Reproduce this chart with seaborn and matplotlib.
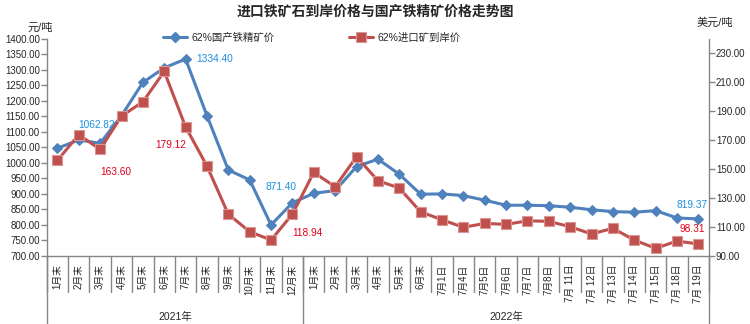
import matplotlib
matplotlib.use('Agg')
import matplotlib.pyplot as plt
import matplotlib.transforms as mtransforms
from matplotlib.lines import Line2D
import seaborn as sns
import numpy as np
import pandas as pd

# ---------------- data ----------------
categories = ['1月末', '2月末', '3月末', '4月末', '5月末', '6月末', '7月末', '8月末',
              '9月末', '10月末', '11月末', '12月末',
              '1月末', '2月末', '3月末', '4月末', '5月末', '6月末',
              '7月1日', '7月4日', '7月5日', '7月6日', '7月7日', '7月8日',
              '7月 11日', '7月 12日', '7月 13日', '7月 14日', '7月 15日', '7月 18日', '7月 19日']
years = ['2021年', '2022年']
year_counts = [12, 19]

domestic = [1047, 1074, 1062.82, 1152, 1259, 1306, 1334.40, 1152, 977, 945, 800, 871.40,
            902, 910.6, 988, 1012, 963.5, 899,
            900, 894.5, 879.7, 863.5, 863.5, 862, 857, 849, 843, 841, 846, 822.6, 819.37]
imported = [156, 173.7, 163.60, 186.6, 196.4, 217.4, 179.12, 152.1, 118.8, 106.8, 101, 118.94,
            147.7, 137.8, 158.5, 142, 136.9, 120.5,
            115, 109.8, 112.5, 111.8, 114.3, 113.9, 110.2, 105.2, 109.1, 101, 95.3, 100.3, 98.31]

series_names = ['62%国产铁精矿价', '62%进口矿到岸价']
title = '进口铁矿石到岸价格与国产铁精矿价格走势图'
left_unit = '元/吨'
right_unit = '美元/吨'

# labelled points: (index, series, text)
labels_dom = [(2, '1062.82'), (6, '1334.40'), (11, '871.40'), (30, '819.37')]
labels_imp = [(2, '163.60'), (6, '179.12'), (11, '118.94'), (30, '98.31')]

# ---------------- style ----------------
sns.set_theme(style='white')
plt.rcParams['font.family'] = ['Liberation Sans', 'Noto Sans CJK SC', 'DejaVu Sans']
plt.rcParams['axes.unicode_minus'] = False

BLUE = '#4F81BD'
RED = '#C0504D'
BLUE_TXT = '#1C8FE0'
RED_TXT = '#E0001B'
GRAY = '#868686'

df = pd.DataFrame({'idx': np.arange(len(categories)), 'domestic': domestic, 'imported': imported})

fig = plt.figure(figsize=(7.5, 3.24), dpi=100)
ax = fig.add_axes([0.0623, 0.2099, 0.8831, 0.6707])
ax2 = ax.twinx()

sns.lineplot(data=df, x='idx', y='domestic', ax=ax, color=BLUE, linewidth=2.2,
             marker='D', markersize=5.5, markeredgecolor=BLUE, legend=False)
sns.lineplot(data=df, x='idx', y='imported', ax=ax2, color=RED, linewidth=2.2,
             marker='s', markersize=7, markeredgecolor='#D99694', markeredgewidth=0.8,
             legend=False)

ax.set_xlim(-0.5, len(categories) - 0.5)
ax.set_ylim(700, 1400)
ax2.set_ylim(90, 240)
ax.set_yticks(np.arange(700, 1401, 50))
ax2.set_yticks(np.arange(90, 231, 20))
ax.set_yticklabels([f'{v:.2f}' for v in np.arange(700, 1401, 50)])
ax2.set_yticklabels([f'{v:.2f}' for v in np.arange(90, 231, 20)])
ax.set_xlabel('')
ax.set_ylabel('')
ax2.set_ylabel('')

ax.set_xticks(np.arange(len(categories)))
ax.set_xticklabels(categories, rotation=90, fontsize=7)
ax.tick_params(axis='x', length=0, pad=6)
ax.tick_params(axis='y', length=4, width=1, color=GRAY, labelsize=7, pad=1, direction='out', left=True)
ax2.tick_params(axis='y', length=4, width=1, color=GRAY, labelsize=7, pad=1, direction='out', right=True)

for a in (ax, ax2):
    a.spines['top'].set_visible(False)
    for s in ('left', 'right', 'bottom'):
        a.spines[s].set_color(GRAY)
        a.spines[s].set_linewidth(1)
    a.grid(False)
ax.spines['right'].set_visible(False)
ax2.spines['left'].set_visible(False)
ax2.spines['bottom'].set_visible(False)

# category separators & group separators
trans = mtransforms.blended_transform_factory(ax.transData, ax.transAxes)
for i in range(len(categories) + 1):
    xb = i - 0.5
    ax.add_line(Line2D([xb, xb], [0, -0.166], transform=trans, color=GRAY, lw=1, clip_on=False))
bounds = np.concatenate([[0], np.cumsum(year_counts)]) - 0.5
for xb in bounds:
    ax.add_line(Line2D([xb, xb], [0, -0.33], transform=trans, color=GRAY, lw=1, clip_on=False))
for k, yr in enumerate(years):
    xc = (bounds[k] + bounds[k + 1]) / 2
    ax.text(xc, -0.279, yr, transform=trans, ha='center', va='center', fontsize=7.5)

# data labels
off_dom = {2: (-4, 18), 6: (29, 0), 11: (-11, 16), 30: (-6, 14)}
off_imp = {2: (16, -23), 6: (-15, -18), 11: (15, -19), 30: (-6, 15)}
for i, t in labels_dom:
    ax.annotate(t, (i, domestic[i]), xytext=off_dom[i], textcoords='offset pixels',
                ha='center', va='center', fontsize=7.3, color=BLUE_TXT)
for i, t in labels_imp:
    ax2.annotate(t, (i, imported[i]), xytext=off_imp[i], textcoords='offset pixels',
                 ha='center', va='center', fontsize=7.3, color=RED_TXT)

# title & units
fig.text(0.5, 1 - 12 / 324, title, ha='center', va='center', fontsize=10, fontweight='bold')
fig.text(40.5 / 750, 1 - 28 / 324, left_unit, ha='center', va='center', fontsize=8)
fig.text(715 / 750, 1 - 23 / 324, right_unit, ha='center', va='center', fontsize=8)

# legend
handles = [Line2D([], [], color=BLUE, lw=2.2, marker='D', markersize=5.5),
           Line2D([], [], color=RED, lw=2.2, marker='s', markersize=7,
                  markeredgecolor='#D99694', markeredgewidth=0.8)]
fig.legend(handles, series_names, loc='center left', bbox_to_anchor=(163 / 750, 1 - 38 / 324),
           ncol=2, frameon=False, fontsize=7.5, handlelength=2.3, handletextpad=0.4,
           columnspacing=7.2, borderpad=0, borderaxespad=0)

fig.savefig('out.png', dpi=100)
